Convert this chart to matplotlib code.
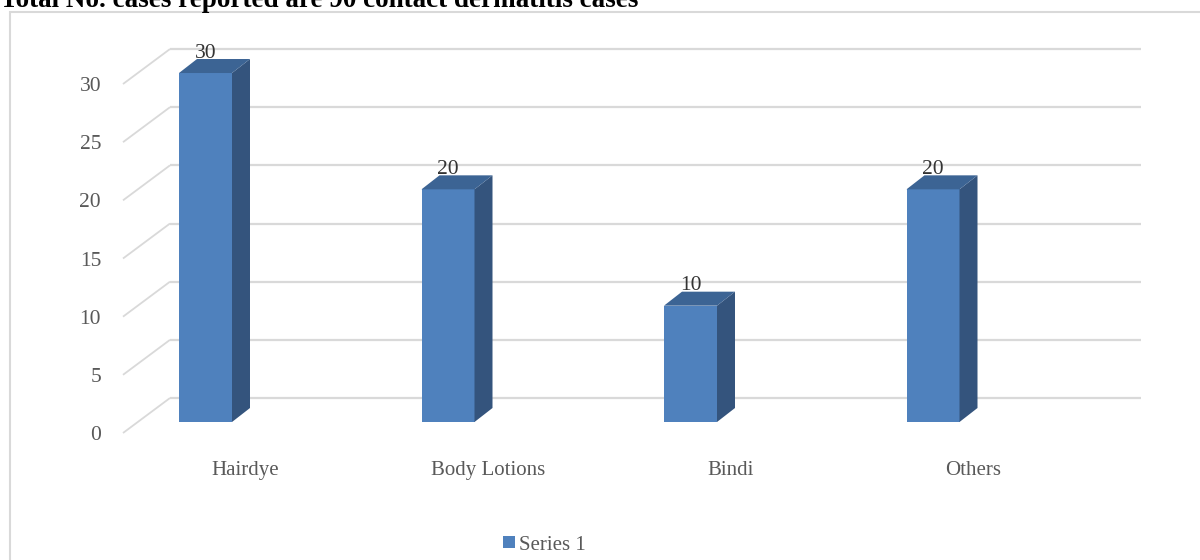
import matplotlib
matplotlib.use("Agg")
import matplotlib.pyplot as plt
from matplotlib.patches import Polygon, Rectangle

# ---- data ----
categories = ["Hairdye", "Body Lotions", "Bindi", "Others"]
values = [30, 20, 10, 20]
series_name = "Series 1"
y_ticks = [0, 5, 10, 15, 20, 25, 30]
title = "Total No. cases reported are 90 contact dermatitis cases"

# ---- style ----
FRONT = "#4F81BD"
SIDE = "#34547D"
TOP = "#3C6494"
GRID = "#D9D9D9"
TXT = "#595959"
SERIF = ["Liberation Serif", "DejaVu Serif"]

W, H = 1200, 560
fig = plt.figure(figsize=(W / 100, H / 100), dpi=100)

# pixel geometry helpers
PX_PER_CAT = 242.5
PX_PER_VAL = 11.633
ax_left_px, ax_bottom_px = 108, 452
zero_py = 422
first_cx = 205.5

ax = fig.add_axes([ax_left_px / W, (H - ax_bottom_px) / H,
                   (W - ax_left_px) / W, ax_bottom_px / H])
ax.set_xlim((ax_left_px - first_cx) / PX_PER_CAT, (W - first_cx) / PX_PER_CAT)
ax.set_ylim((zero_py - ax_bottom_px) / PX_PER_VAL, zero_py / PX_PER_VAL)
for s in ax.spines.values():
    s.set_visible(False)
ax.patch.set_alpha(0)

def dxu(px):
    return px / PX_PER_CAT

def dyu(px):
    return px / PX_PER_VAL

front_shift = dyu(11)   # front (axis) plane below bar plane
back_shift = dyu(24)    # back wall above bar plane
x_front_left = dxu(123 - first_cx)
x_back_left = dxu(170 - first_cx)
x_back_right = dxu(1141 - first_cx)

# gridlines: back wall + left side wall diagonals
for t in y_ticks:
    ax.plot([x_back_left, x_back_right], [t + back_shift, t + back_shift],
            color=GRID, lw=1.6, zorder=1, solid_capstyle="butt")
    ax.plot([x_front_left, x_back_left], [t - front_shift, t + back_shift],
            color=GRID, lw=1.3, zorder=1, solid_capstyle="butt")

# bars
xs = list(range(len(categories)))
bw = dxu(53)
ddx, ddy = dxu(18), dyu(14)
bars = ax.bar(xs, values, width=bw, color=FRONT, edgecolor="none", zorder=3,
              label=series_name)
for x, v in zip(xs, values):
    r = x + bw / 2
    l = x - bw / 2
    ax.add_patch(Polygon([(r, 0), (r + ddx, ddy), (r + ddx, v + ddy), (r, v)],
                         closed=True, facecolor=SIDE, edgecolor="none", zorder=3))
    ax.add_patch(Polygon([(l, v), (l + ddx, v + ddy), (r + ddx, v + ddy), (r, v)],
                         closed=True, facecolor=TOP, edgecolor="none", zorder=3))
    ax.text(x, v + ddy + dyu(1.5), str(v), ha="center", va="baseline",
            fontsize=15.5, color="#333333", family=SERIF, zorder=4)

# y ticks on the front plane
ax.set_yticks([t - front_shift for t in y_ticks], labels=[str(t) for t in y_ticks])
ax.tick_params(axis="y", length=0, pad=5, labelsize=15.5, labelcolor=TXT)
# x ticks (category labels)
ax.set_xticks([x + dxu(40) for x in xs], labels=categories)
ax.tick_params(axis="x", length=0, pad=6.3, labelsize=15, labelcolor=TXT)
for lab in ax.get_xticklabels() + ax.get_yticklabels():
    lab.set_family(SERIF)

# chart border
fig.add_artist(Rectangle((10 / W, -0.05), 1.2, (H - 12) / H + 0.05,
                         transform=fig.transFigure, fill=False,
                         edgecolor=GRID, lw=1.5, zorder=0))

# title (cut off at top as in the reference)
fig.text(0, 1 - 7 / H, title, ha="left", va="baseline", fontsize=19.5,
         fontweight="bold", family=SERIF, color="black")

# legend
leg = fig.legend(handles=[bars], labels=[series_name], loc="center",
                 bbox_to_anchor=(544.5 / W, 1 - 545 / H), frameon=False,
                 prop={"family": SERIF, "size": 15}, handlelength=0.56,
                 handleheight=0.56, handletextpad=0.2, borderpad=0,
                 labelcolor=TXT)

fig.savefig("out.png", dpi=100)
